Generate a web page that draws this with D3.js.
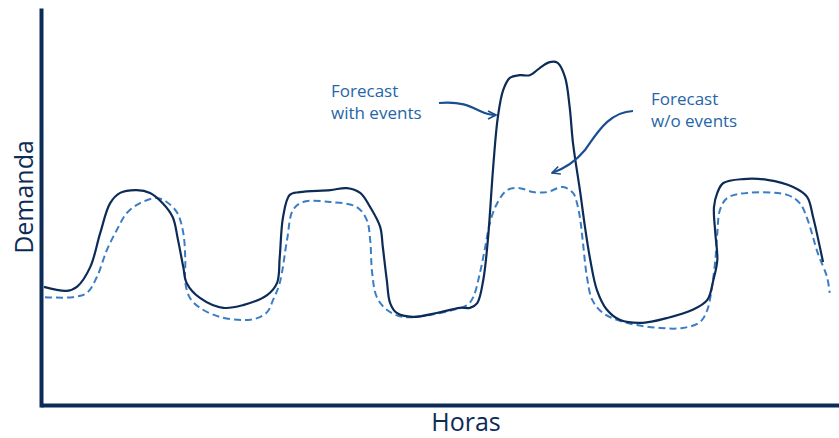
<!DOCTYPE html>
<html><head><meta charset="utf-8">
<script src="https://cdn.jsdelivr.net/npm/d3@7"></script>
<style>html,body{margin:0;padding:0;background:#fff;}svg{display:block;font-family:"Open Sans",Lato,sans-serif;}</style>
</head><body>
<script>
// Forecast with events (solid) — hours, demand
const withHours = [0.45,3.9,5.4,7.4,8.9,10.4,11.9,14.4,16.4,18.3,19.8,20.6,21.4,21.9,23.9,27.4,30.4,34.0,35.5,35.9,36.4,37.4,38.9,43.5,46.0,48.0,49.5,51.0,51.4,52.0,52.5,53.5,55.9,59.5,63.0,64.5,65.6,66.5,67.2,68.0,68.7,69.5,70.5,72.0,73.5,75.0,76.5,77.7,78.8,79.5,80.0,81.1,81.8,82.6,83.6,85.1,87.1,90.5,94.1,98.0,100.2,101.1,101.7,101.4,101.2,101.7,102.6,105.6,109.2,113.1,115.2,116.1,116.8,117.6];
const withDemand = [29.9,28.9,29.9,34.9,43.5,51.1,53.7,54.4,53.7,51.1,47.6,41.8,34.9,30.9,27.1,24.6,25.3,27.8,30.9,37.5,47.6,53.2,53.9,54.4,54.9,53.7,50.1,45.1,40.0,31.6,25.8,23.3,22.3,23.3,24.6,24.6,25.8,31.6,41.8,60.3,72.9,79.7,82.8,83.5,83.5,85.3,86.8,86.6,83.0,75.4,66.3,53.7,45.1,36.7,29.1,24.1,21.5,20.8,22.0,24.1,26.6,31.6,36.7,43.5,50.1,53.7,56.2,57.2,57.0,55.2,52.7,47.6,42.5,36.2];
// Forecast without events (dashed)
const withoutHours = [0.6,4.8,6.9,8.4,9.9,11.4,12.9,14.9,17.4,18.9,20.5,21.4,21.7,21.7,22.4,23.9,26.9,30.4,32.5,34.0,34.9,35.9,37.0,37.9,39.4,43.5,47.5,49.0,49.5,49.8,50.5,52.0,54.4,58.5,62.0,64.1,65.0,66.0,66.8,67.5,68.6,70.1,72.0,74.0,76.1,78.5,80.0,80.6,81.1,81.5,82.1,82.9,84.5,88.1,93.1,96.5,99.1,100.2,100.9,101.4,101.7,102.1,103.2,106.2,112.2,114.1,115.3,116.8,118.2,118.6];
const withoutDemand = [27.3,27.3,28.4,32.4,39.2,44.3,48.6,51.1,52.4,51.4,48.6,43.5,36.7,30.9,27.1,24.6,22.3,21.5,22.0,23.5,26.6,30.9,41.8,49.4,51.4,51.4,50.1,46.8,41.8,33.4,27.3,24.1,22.3,22.8,24.1,25.3,27.3,33.4,40.0,46.1,51.1,54.4,54.9,53.9,53.9,55.2,53.7,51.1,46.8,41.0,32.4,26.6,23.3,20.8,19.5,19.5,21.0,24.1,29.9,36.7,43.5,49.4,52.4,53.7,53.2,51.1,46.8,38.5,32.4,28.4];
const annotationLines = [["Forecast","with events"],["Forecast","w/o events"]];
const axisLabels = {x:"Horas", y:"Demanda"};

const W=839,H=438;
const x=d3.scaleLinear().domain([0,120]).range([41,839]);
const y=d3.scaleLinear().domain([0,100]).range([405,10]);
const svg=d3.select("body").append("svg").attr("width",W).attr("height",H);

const navy="#0c2c57", dash="#3b7dc4", txt="#2565a8";

const line=d3.line().x(d=>x(d[0])).y(d=>y(d[1])).curve(d3.curveCatmullRom.alpha(0.5));
const solidPts=withHours.map((h,i)=>[h,withDemand[i]]);
const dashPts=withoutHours.map((h,i)=>[h,withoutDemand[i]]);

svg.append("path").attr("d",line(dashPts)).attr("fill","none").attr("stroke",dash).attr("stroke-width",2).attr("stroke-dasharray","7,4");
svg.append("path").attr("d",line(solidPts)).attr("fill","none").attr("stroke",navy).attr("stroke-width",2.2);

// axes (no ticks)
const xAxis=d3.axisBottom(x).tickValues([]).tickSizeOuter(0);
const yAxis=d3.axisLeft(y).tickValues([]).tickSizeOuter(0);
svg.append("g").attr("transform",`translate(0,${y(0)})`).call(xAxis).select(".domain").attr("stroke",navy).attr("stroke-width",4);
svg.append("g").attr("transform",`translate(${x(0)},0)`).call(yAxis).select(".domain").attr("stroke",navy).attr("stroke-width",4).attr("stroke-linecap","square");

svg.append("text").attr("x",466).attr("y",431).attr("text-anchor","middle").attr("font-size",25).attr("fill",navy).text(axisLabels.x);
svg.append("text").attr("transform","translate(33,197) rotate(-90)").attr("text-anchor","middle").attr("font-size",25).attr("fill",navy).text(axisLabels.y);

// annotations
const ann=[{x:331,y:97,lines:annotationLines[0]},{x:651,y:105,lines:annotationLines[1]}];
ann.forEach(a=>{
  const t=svg.append("text").attr("fill",txt).attr("font-size",17);
  a.lines.forEach((l,i)=>t.append("tspan").attr("x",a.x).attr("y",a.y+i*22).text(l));
});

svg.append("defs").append("marker").attr("id","ah").attr("viewBox","0 0 10 10").attr("refX",9).attr("refY",5)
  .attr("markerWidth",10).attr("markerHeight",10).attr("orient","auto-start-reverse").attr("markerUnits","userSpaceOnUse")
  .append("path").attr("d","M1,1 L9,5 L1,9").attr("fill","none").attr("stroke","#1a4f8f").attr("stroke-width",1.6);

svg.append("path").attr("d","M439,103 C460,101 470,106 480,111 C486,114 490,115 496,115")
  .attr("fill","none").attr("stroke","#1a4f8f").attr("stroke-width",2.2).attr("marker-end","url(#ah)");
svg.append("path").attr("d","M633,111 C608,112 596,135 585,150 C576,161 566,168 552,173")
  .attr("fill","none").attr("stroke","#1a4f8f").attr("stroke-width",2.2).attr("marker-end","url(#ah)");
</script>
</body></html>
